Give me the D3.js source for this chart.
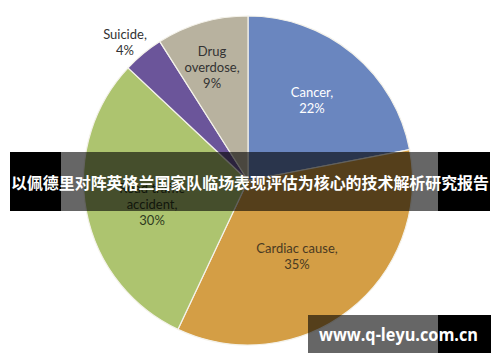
<!DOCTYPE html>
<html><head><meta charset="utf-8">
<script src="https://cdn.jsdelivr.net/npm/d3@7"></script>
<style>body{margin:0;background:#fff}svg{display:block}</style>
</head><body>
<svg id="c" width="500" height="362"></svg>
<script>
const categories = ["Cancer", "Cardiac cause", "Road traffic accident", "Suicide", "Drug overdose"];
const values = [22, 35, 30, 4, 9];
const labelLines = [["Cancer,", "22%"], ["Cardiac cause,", "35%"], ["Road traffic", "accident,", "30%"], ["Suicide,", "4%"], ["Drug", "overdose,", "9%"]];
const colors = ["#6a86bf", "#d49e45", "#adc46f", "#6b559a", "#b8b29f"];
const textColors = ["#ffffff", "#4a3a22", "#2f3a20", "#333333", "#333333"];
const bannerText = "以佩德里对阵英格兰国家队临场表现评估为核心的技术解析研究报告";
const watermark = "www.q-leyu.com.cn";

const svg = d3.select("#c");
const cx = 248, cy = 180.5, R = 164.5;
const g = svg.append("g").attr("transform", `translate(${cx},${cy})`);
const pie = d3.pie().sort(null).value(d => d)(values);
const arc = d3.arc().innerRadius(0).outerRadius(R);
g.selectAll("path").data(pie).join("path")
  .attr("d", arc).attr("fill", (d, i) => colors[i])
  .attr("stroke", "#f4f2ea").attr("stroke-width", 1.2);

// label placement: angle (deg, clockwise from top) and radius as fraction of R
const labelAngle = [38.5, 147.2, 255.7, 318.2, 342.3];
const labelRad = [0.625, 0.55, 0.602, 1.122, 0.718];
g.selectAll("text.lab").data(pie).join("text").attr("class", "lab")
  .attr("font-family", "Lato, 'Open Sans', sans-serif").attr("font-size", 13)
  .attr("fill", (d, i) => textColors[i]).attr("text-anchor", "middle")
  .each(function(d, i) {
    const [x, y] = d3.pointRadial(labelAngle[i] * Math.PI / 180, R * labelRad[i]);
    const lines = labelLines[i];
    const lh = 16;
    const t = d3.select(this);
    lines.forEach((s, k) => {
      t.append("tspan").attr("x", x).attr("y", y + (k - (lines.length - 1) / 2) * lh + 4.5).text(s);
    });
  });

// banner
svg.append("rect").attr("x", 10).attr("y", 152).attr("width", 51).attr("height", 59).attr("fill", "#000");
svg.append("rect").attr("x", 438).attr("y", 152).attr("width", 52).attr("height", 59).attr("fill", "#000");
svg.append("rect").attr("x", 61).attr("y", 152).attr("width", 377).attr("height", 59).attr("fill", "rgba(0,0,0,0.6)");
svg.append("text").attr("x", 250).attr("y", 189).attr("text-anchor", "middle")
  .attr("font-family", "'Noto Sans CJK SC', sans-serif").attr("font-weight", "bold")
  .attr("font-size", 16).attr("fill", "#fff").attr("textLength", 478).attr("lengthAdjust", "spacingAndGlyphs")
  .text(bannerText);

// watermark
svg.append("rect").attr("x", 308).attr("y", 315).attr("width", 130).attr("height", 38).attr("fill", "rgba(0,0,0,0.6)");
svg.append("rect").attr("x", 438).attr("y", 315).attr("width", 53).attr("height", 38).attr("fill", "#000");
svg.append("text").attr("x", 398.5).attr("y", 341).attr("text-anchor", "middle")
  .attr("font-family", "'Open Sans', 'Noto Sans', sans-serif").attr("font-weight", "bold")
  .attr("font-size", 17).attr("fill", "#fff").attr("textLength", 159).attr("lengthAdjust", "spacingAndGlyphs")
  .text(watermark);
</script>
</body></html>
